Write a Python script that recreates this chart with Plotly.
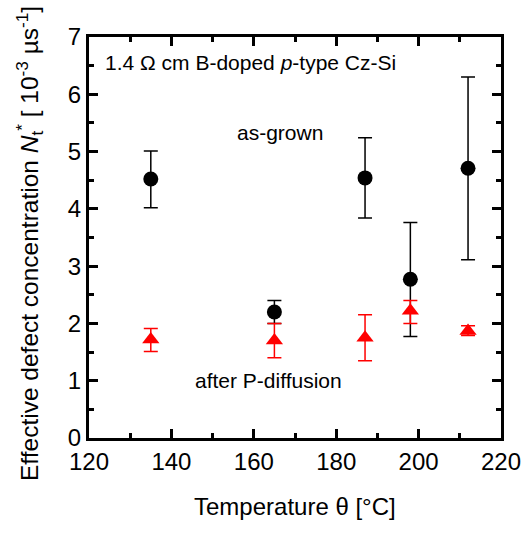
import plotly.graph_objects as go

temps = [135, 165, 187, 198, 212]
grown_y = [4.52, 2.20, 4.54, 2.77, 4.71]
grown_hi = [5.01, 2.40, 5.24, 3.76, 6.30]
grown_lo = [4.02, 2.00, 3.84, 1.77, 3.11]
pdiff_y = [1.72, 1.70, 1.75, 2.22, 1.87]
pdiff_hi = [1.91, 2.00, 2.15, 2.40, 1.96]
pdiff_lo = [1.51, 1.40, 1.35, 2.00, 1.79]

FONT = "Liberation Sans, Arial, sans-serif"
L, R, T, B = 89, 25, 37, 102
W, H = 526, 540
PW, PH = W - L - R, H - T - B

def px(x):
    return (x - L) / PW

def py(y):
    return (H - B - y) / PH

fig = go.Figure()
fig.add_trace(go.Scatter(
    x=temps, y=grown_y, mode="markers",
    marker=dict(symbol="circle", size=15, color="black"),
    error_y=dict(type="data", symmetric=False,
                 array=[h - v for h, v in zip(grown_hi, grown_y)],
                 arrayminus=[v - l for v, l in zip(grown_y, grown_lo)],
                 color="black", thickness=1.5, width=7),
    showlegend=False))
fig.add_trace(go.Scatter(
    x=temps, y=pdiff_y, mode="markers",
    marker=dict(symbol="triangle-up", size=15, color="red"),
    error_y=dict(type="data", symmetric=False,
                 array=[h - v for h, v in zip(pdiff_hi, pdiff_y)],
                 arrayminus=[v - l for v, l in zip(pdiff_y, pdiff_lo)],
                 color="red", thickness=1.5, width=7),
    showlegend=False))

axis_common = dict(
    showline=True, linecolor="black", linewidth=3, mirror="allticks",
    ticks="inside", ticklen=9, tickwidth=3, tickcolor="black",
    showgrid=False, zeroline=False, automargin=False,
    tickfont=dict(family=FONT, size=24, color="black"),
)

fig.update_xaxes(range=[120, 220], tickvals=[120, 140, 160, 180, 200, 220],
                 minor=dict(dtick=10, ticks="inside", ticklen=5, tickwidth=3, tickcolor="black"),
                 **axis_common)
fig.update_yaxes(range=[0, 7], dtick=1,
                 minor=dict(dtick=0.5, ticks="inside", ticklen=5, tickwidth=3, tickcolor="black"),
                 **axis_common)

# axis titles
fig.add_annotation(x=px(295), y=py(506), xref="paper", yref="paper", xanchor="center", yanchor="middle",
                   text="Temperature θ [°C]", showarrow=False,
                   font=dict(family=FONT, size=24, color="black"))
fig.add_annotation(x=px(30), y=py(244), xref="paper", yref="paper", xanchor="center", yanchor="middle",
                   textangle=-90,
                   text="Effective defect concentration <i>N</i><sub>t</sub><sup>*</sup> [ 10<sup>-3</sup> µs<sup>-1</sup>]",
                   showarrow=False, font=dict(family=FONT, size=24.5, color="black"))

fig.add_annotation(x=px(103), y=py(63), xref="paper", yref="paper", xanchor="left", yanchor="middle",
                   text="1.4 Ω cm B-doped <i>p</i>-type Cz-Si", showarrow=False,
                   font=dict(family=FONT, size=21, color="black"))
fig.add_annotation(x=px(279.5), y=py(132), xref="paper", yref="paper", xanchor="center", yanchor="middle",
                   text="as-grown", showarrow=False, font=dict(family=FONT, size=21, color="black"))
fig.add_annotation(x=px(268.5), y=py(380), xref="paper", yref="paper", xanchor="center", yanchor="middle",
                   text="after P-diffusion", showarrow=False, font=dict(family=FONT, size=21, color="black"))

fig.update_layout(width=W, height=H, margin=dict(l=L, r=R, t=T, b=B),
                  plot_bgcolor="white", paper_bgcolor="white")
fig.write_html("out.html")
